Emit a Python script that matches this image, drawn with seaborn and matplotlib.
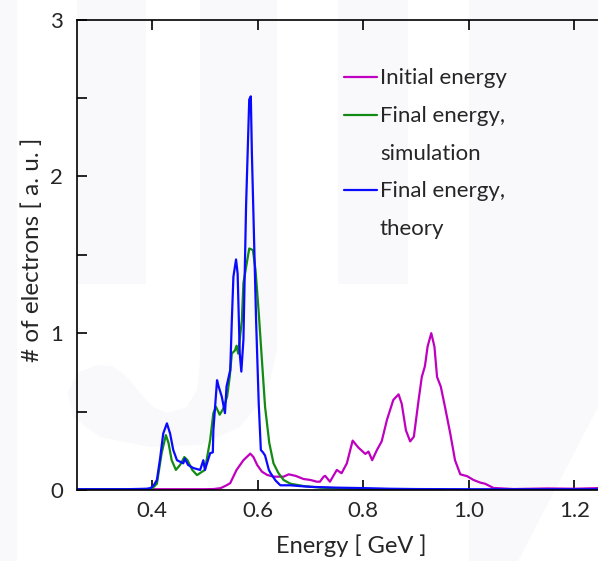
import numpy as np
import pandas as pd
import matplotlib
matplotlib.use("Agg")
import matplotlib.pyplot as plt
from matplotlib.patches import Polygon
import seaborn as sns

# --------------------------
# Data
# --------------------------
E_theory = [0.257, 0.30, 0.35, 0.39, 0.397, 0.403, 0.409, 0.415, 0.421, 0.428,
            0.434, 0.440, 0.447, 0.453, 0.459, 0.462, 0.468, 0.478, 0.491, 0.497,
            0.500, 0.510, 0.515, 0.516, 0.523, 0.526, 0.532, 0.538, 0.541, 0.548,
            0.551, 0.554, 0.559, 0.562, 0.566, 0.569, 0.573, 0.578, 0.581, 0.584,
            0.587, 0.589, 0.593, 0.597, 0.602, 0.606, 0.610, 0.614, 0.621, 0.624,
            0.634, 0.643, 0.662, 0.68, 0.70, 0.75, 0.80, 0.85, 0.90, 1.0,
            1.1, 1.245]
n_theory = [0.005, 0.005, 0.005, 0.008, 0.012, 0.03, 0.064, 0.2, 0.36, 0.425,
            0.36, 0.255, 0.19, 0.18, 0.17, 0.2, 0.16, 0.14, 0.128, 0.19,
            0.128, 0.235, 0.24, 0.38, 0.70, 0.66, 0.595, 0.49, 0.66, 0.765,
            1.08, 1.36, 1.47, 1.38, 0.87, 0.755, 0.96, 1.81, 2.15, 2.49,
            2.51, 2.15, 1.62, 1.08, 0.55, 0.255, 0.24, 0.22, 0.13, 0.11,
            0.06, 0.03, 0.03, 0.025, 0.02, 0.015, 0.012, 0.008, 0.006, 0.005,
            0.005, 0.005]

E_sim = [0.257, 0.30, 0.35, 0.39, 0.400, 0.409, 0.418, 0.426, 0.431, 0.437,
         0.445, 0.453, 0.461, 0.467, 0.476, 0.485, 0.494, 0.500, 0.510, 0.516,
         0.521, 0.528, 0.535, 0.542, 0.547, 0.551, 0.557, 0.560, 0.563, 0.570,
         0.573, 0.579, 0.584, 0.591, 0.596, 0.602, 0.608, 0.614, 0.622, 0.630,
         0.639, 0.649, 0.662, 0.687, 0.72, 0.76, 0.80, 0.85]
n_sim = [0.004, 0.004, 0.004, 0.006, 0.01, 0.04, 0.235, 0.35, 0.30, 0.19,
         0.128, 0.16, 0.21, 0.19, 0.128, 0.095, 0.115, 0.128, 0.32, 0.49,
         0.53, 0.48, 0.52, 0.595, 0.72, 0.87, 0.89, 0.92, 0.87, 1.08,
         1.32, 1.44, 1.54, 1.53, 1.40, 1.13, 0.83, 0.53, 0.30, 0.17,
         0.11, 0.064, 0.04, 0.025, 0.015, 0.01, 0.007, 0.005]

E_init = [0.257, 0.35, 0.45, 0.50, 0.516, 0.530, 0.541, 0.548, 0.560, 0.573,
          0.586, 0.592, 0.599, 0.608, 0.618, 0.630, 0.649, 0.659, 0.672, 0.687,
          0.700, 0.712, 0.718, 0.725, 0.728, 0.737, 0.750, 0.759, 0.769, 0.780,
          0.791, 0.804, 0.810, 0.817, 0.826, 0.835, 0.845, 0.857, 0.867, 0.873,
          0.881, 0.889, 0.896, 0.905, 0.911, 0.917, 0.922, 0.929, 0.935, 0.940,
          0.947, 0.955, 0.965, 0.974, 0.984, 0.997, 1.009, 1.022, 1.031, 1.047,
          1.085, 1.15, 1.20, 1.245]
n_init = [0.005, 0.005, 0.005, 0.005, 0.006, 0.012, 0.03, 0.044, 0.128, 0.19,
          0.232, 0.21, 0.16, 0.117, 0.096, 0.085, 0.085, 0.10, 0.09, 0.07,
          0.064, 0.053, 0.053, 0.085, 0.09, 0.053, 0.128, 0.107, 0.17, 0.315,
          0.27, 0.23, 0.245, 0.19, 0.255, 0.31, 0.447, 0.574, 0.61, 0.55,
          0.38, 0.31, 0.34, 0.574, 0.72, 0.79, 0.914, 1.0, 0.914, 0.72,
          0.66, 0.53, 0.36, 0.19, 0.10, 0.088, 0.064, 0.047, 0.04, 0.013,
          0.006, 0.01, 0.008, 0.012]

series_names = ["Initial energy", "Final energy, simulation", "Final energy, theory"]
legend_lines = [["Initial energy"], ["Final energy,", "simulation"], ["Final energy,", "theory"]]
colors = ["#c000c0", "#138a13", "#0a0aff"]

x_ticks = [0.4, 0.6, 0.8, 1.0, 1.2]
x_ticklabels = ["0.4", "0.6", "0.8", "1.0", "1.2"]
y_ticks = [0, 0.5, 1, 1.5, 2, 2.5, 3]
y_ticklabels = ["0", "", "1", "", "2", "", "3"]

df = pd.concat([
    pd.DataFrame({"energy": E_init, "count": n_init, "series": series_names[0]}),
    pd.DataFrame({"energy": E_sim, "count": n_sim, "series": series_names[1]}),
    pd.DataFrame({"energy": E_theory, "count": n_theory, "series": series_names[2]}),
], ignore_index=True)

# --------------------------
# Style
# --------------------------
sns.set_style("ticks")
plt.rcParams["font.family"] = ["Lato", "DejaVu Sans"]

W, H = 598, 561
fig = plt.figure(figsize=(W / 100, H / 100), dpi=100, facecolor="white")


def px(x, y):
    return (x / W, 1 - y / H)


# faint watermark shapes behind the plot
wm = "#f9f9fb"
shapes = [
    [(0, 0), (17, 0), (17, 561), (0, 561)],
    [(77, 0), (146, 0), (146, 284), (77, 284)],
    [(338, 0), (408, 0), (408, 284), (338, 284)],
    [(469, 0), (598, 0), (598, 407), (518, 561), (469, 561)],
    [(200, 0), (277, 0), (277, 350), (267, 393), (240, 427), (200, 445), (150, 447),
     (100, 437), (73, 417), (68, 393), (77, 373), (97, 365), (112, 366), (127, 377),
     (140, 393), (153, 407), (167, 413), (187, 407), (197, 390), (200, 360)],
]
for s in shapes:
    fig.add_artist(Polygon([px(*p) for p in s], closed=True, transform=fig.transFigure,
                           facecolor=wm, edgecolor="none", zorder=-5))

ax = fig.add_axes([76.7 / W, (H - 490) / H, 1 - 76.7 / W, 470.5 / H])
ax.set_facecolor("none")

sns.lineplot(data=df, x="energy", y="count", hue="series", hue_order=series_names,
             palette=colors, sort=False, estimator=None, legend=False,
             linewidth=1.6, ax=ax)

ax.set_xlim(0.257, 1.245)
ax.set_ylim(0, 3)
ax.set_xticks(x_ticks)
ax.set_xticklabels(x_ticklabels)
ax.set_yticks(y_ticks)
ax.set_yticklabels(y_ticklabels)
ax.tick_params(direction="in", length=7, width=1.2, color="black", labelsize=16,
               top=True, right=False)
ax.tick_params(axis="x", pad=8)
ax.tick_params(axis="y", pad=10)
for side in ["left", "bottom", "top"]:
    ax.spines[side].set_linewidth(1.2)
    ax.spines[side].set_color("black")
ax.spines["right"].set_visible(False)

ax.set_xlabel("Energy [ GeV ]", fontsize=17)
ax.set_ylabel("# of electrons [ a. u. ]", fontsize=17.5)
ax.xaxis.set_label_coords((351 - 76.7) / 521.3, -0.095)
ax.yaxis.set_label_coords(-0.064, 0.51)

# legend drawn by hand so the line sits on the first text line
ax_w, ax_h = 521.3, 470.5
row_h = 37.7
rows = [77, 115, 190]
for lines, col, ry in zip(legend_lines, colors, rows):
    ya = (490 - ry) / ax_h
    ax.plot([(344 - 76.7) / ax_w, (377 - 76.7) / ax_w], [ya, ya], color=col,
            linewidth=1.6, transform=ax.transAxes)
    for i, t in enumerate(lines):
        yb = (490 - (ry + 7 + i * row_h)) / ax_h
        ax.text((380 - 76.7) / ax_w, yb, t, transform=ax.transAxes, fontsize=16,
                va="baseline", ha="left")

fig.savefig("out.png", dpi=100)
